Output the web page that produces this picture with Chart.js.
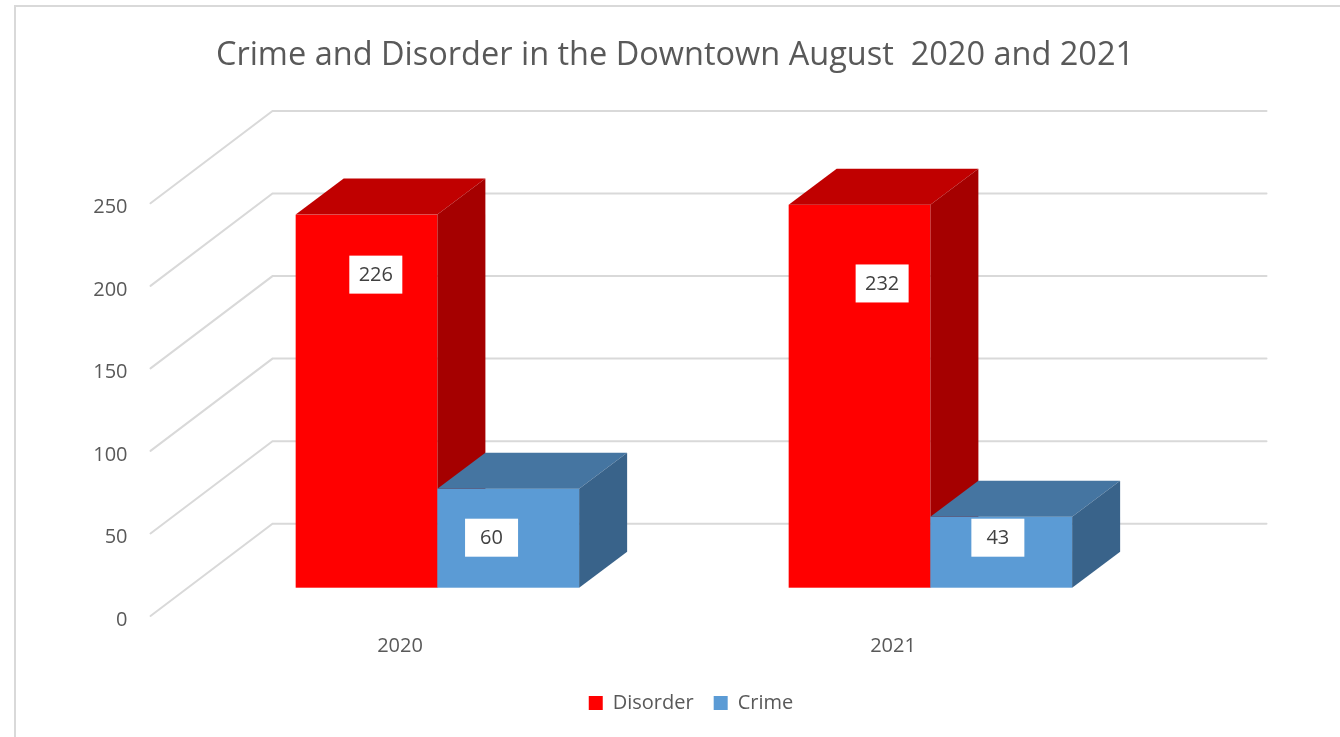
<!DOCTYPE html>
<html>
<head>
<meta charset="utf-8">
<script src="https://cdn.jsdelivr.net/npm/chart.js@4.4.0/dist/chart.umd.min.js"></script>
<style>
html, body { margin: 0; padding: 0; background: #fff; overflow: hidden; }
#frame { position: absolute; left: 14px; top: 5px; width: 1400px; height: 800px; border: 2px solid #d9d9d9; }
#wrap { position: absolute; left: 0; top: 0; width: 1340px; height: 737px; }
</style>
</head>
<body>
<div id="frame"></div>
<div id="wrap"><canvas id="chart" width="1340" height="737"></canvas></div>
<script>
const years = ['2020', '2021'];
const disorder = [226, 232];
const crime = [60, 43];
const yTicks = [0, 50, 100, 150, 200, 250];

// fake 3d: axis plane -> bar front -> bar back -> back wall
const OX = 37.4, OY = -28.3;
const DX = 48, DY = -36;
const WX = 122, WY = -92.3;

Chart.defaults.font.family = "'Open Sans', sans-serif";

const bars3d = {
  id: 'bars3d',
  afterLayout(chart) {
    const lg = chart.legend;
    const h = lg.height;
    lg.left += 16;
    lg.right += 16;
    lg.top = 703 - lg.options.labels.padding - 10;
    lg.bottom = lg.top + h;
  },
  beforeDatasetsDraw(chart) {
    const { ctx, chartArea: a, scales: { y } } = chart;
    ctx.save();
    ctx.strokeStyle = '#d9d9d9';
    ctx.lineWidth = 2;
    ctx.lineCap = 'round';
    y.ticks.forEach(t => {
      const py = y.getPixelForValue(t.value);
      ctx.beginPath();
      ctx.moveTo(a.left - 3, py);
      ctx.lineTo(a.left - 3 + WX, py + WY);
      ctx.lineTo(a.right + 127, py + WY);
      ctx.stroke();
    });
    ctx.restore();
  },
  beforeDatasetDraw() {
    return false; // bars are drawn below
  },
  afterDatasetsDraw(chart) {
    const ctx = chart.ctx;
    const sets = chart.data.datasets;
    const labels = [];
    ctx.save();
    years.forEach((yr, i) => {
      sets.forEach((ds, d) => {
        const el = chart.getDatasetMeta(d).data[i];
        const x0 = el.x - el.width / 2 + OX;
        const x1 = el.x + el.width / 2 + OX;
        const yt = el.y + OY;
        const yb = el.base + OY;

        ctx.fillStyle = ds.backgroundColor;
        ctx.fillRect(x0, yt, x1 - x0, yb - yt);

        ctx.fillStyle = ds.topColor;
        ctx.beginPath();
        ctx.moveTo(x0, yt);
        ctx.lineTo(x0 + DX, yt + DY);
        ctx.lineTo(x1 + DX, yt + DY);
        ctx.lineTo(x1, yt);
        ctx.closePath();
        ctx.fill();

        ctx.fillStyle = ds.sideColor;
        ctx.beginPath();
        ctx.moveTo(x1, yt);
        ctx.lineTo(x1 + DX, yt + DY);
        ctx.lineTo(x1 + DX, yb + DY);
        ctx.lineTo(x1, yb);
        ctx.closePath();
        ctx.fill();

        // labels drift a little with the perspective
        const pairMid = chart.scales.x.getPixelForValue(i) + OX;
        const shift = (pairMid - 575) * 0.027;
        const cx = (x0 + x1) / 2 + (d === 0 ? 13 : -13) + shift;
        const cy = d === 0 ? yt + 60 + (pairMid - 437) * 0.038 : yb - 50;
        labels.push({ cx, cy, text: String(ds.data[i]) });
      });
    });

    ctx.font = "20px 'Open Sans', sans-serif";
    ctx.textAlign = 'center';
    ctx.textBaseline = 'middle';
    labels.forEach(l => {
      ctx.fillStyle = '#ffffff';
      ctx.fillRect(l.cx - 26.5, l.cy - 19, 53, 38);
      ctx.fillStyle = '#404040';
      ctx.fillText(l.text, l.cx, l.cy + 1);
    });
    ctx.restore();
  }
};

new Chart(document.getElementById('chart'), {
  type: 'bar',
  data: {
    labels: years,
    datasets: [
      {
        label: 'Disorder',
        data: disorder,
        backgroundColor: '#ff0000',
        topColor: '#c00000',
        sideColor: '#a50000',
        borderWidth: 0
      },
      {
        label: 'Crime',
        data: crime,
        backgroundColor: '#5b9bd5',
        topColor: '#4575a1',
        sideColor: '#39638a',
        borderWidth: 0
      }
    ]
  },
  options: {
    responsive: false,
    animation: false,
    categoryPercentage: 0.575,
    barPercentage: 1,
    layout: { padding: { left: 10 } },
    plugins: {
      title: {
        display: true,
        text: 'Crime and Disorder in the Downtown August  2020 and 2021',
        color: '#595959',
        font: { size: 32.5, weight: 'normal' },
        padding: { top: 36, bottom: 128.3 }
      },
      legend: {
        position: 'bottom',
        labels: {
          boxWidth: 14,
          boxHeight: 14,
          padding: 20,
          color: '#595959',
          font: { size: 20 }
        }
      },
      tooltip: { enabled: false }
    },
    scales: {
      x: {
        grid: { display: false },
        border: { display: false },
        ticks: { color: '#595959', font: { size: 20 }, padding: 10 },
        afterFit(s) { s.height = s.chart.height - 616 - s.chart.legend.height; }
      },
      y: {
        min: 0,
        max: 250,
        grid: { display: false },
        border: { display: false },
        ticks: { color: '#595959', font: { size: 20 }, padding: 18, labelOffset: 4 },
        afterBuildTicks(s) { s.ticks = yTicks.map(v => ({ value: v })); },
        afterFit(s) { s.width = 143.5; }
      },
      y2: {
        position: 'right',
        grid: { display: false },
        border: { display: false },
        ticks: { display: false },
        afterFit(s) { s.width = 200.5; }
      }
    }
  },
  plugins: [bars3d]
});
</script>
</body>
</html>
